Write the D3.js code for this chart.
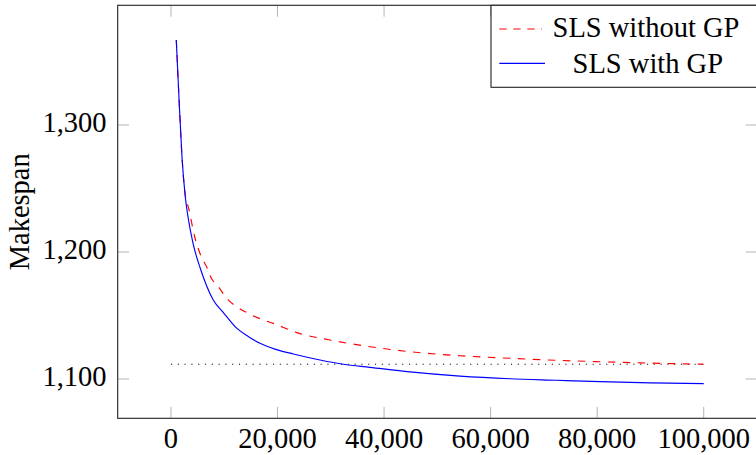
<!DOCTYPE html>
<html><head><meta charset="utf-8">
<script src="https://cdn.jsdelivr.net/npm/d3@7"></script>
<style>
html,body{margin:0;padding:0;background:#fff;}
svg{display:block;}
text{font-family:"Liberation Serif","Times New Roman",serif;fill:#000;}
</style></head>
<body>
<svg id="chart" width="756" height="455"></svg>
<script>
// Data
const seriesNames = ["SLS without GP", "SLS with GP"];
const withoutGP_x = [1000,1500,2065,2684,3320,4450,5690,6815,7320,8880,10700,12500,14830,17000,19200,23600,29850,36100,44870,54250,63640,72400,80530,90000,100000];
const withoutGP_y = [1367,1321.5,1275,1245,1234.4,1212,1196.3,1187.2,1181.5,1172.7,1162.5,1156.5,1151,1147,1143.8,1136.5,1130.7,1126.2,1121.5,1118.3,1116.3,1114.7,1113.6,1112.5,1111.6];
const withGP_x = [995,1502,2065,2684,3191,4130,5500,7940,9800,12330,14500,16700,19500,22960,27970,32350,37360,44870,54250,63640,72400,80530,90000,100000];
const withGP_y = [1367,1321.5,1275,1243.5,1227.8,1206.9,1187.2,1162.2,1152.5,1140,1133.5,1128.1,1123.5,1119.7,1115,1111.6,1109.2,1105.6,1102.3,1100.2,1099,1097.9,1097,1096.3];
const reference_x = [0, 100000];
const reference_y = [1111.6, 1111.6];
const xTicks = [0,20000,40000,60000,80000,100000];
const yTicks = [1100,1200,1300];
const yLabel = "Makespan";

const svg = d3.select("#chart");
const L = 117.7, R = 757, T = 5.3, B = 418.3;
const x = d3.scaleLinear().domain([-10000,110000]).range([L,R]);
const y = d3.scaleLinear().domain([1069.05,1394.25]).range([B,T]);
const fmt = d3.format(",");
const tickLen = 11.4;

// ticks (inward, all four sides)
const tg = svg.append("g").attr("stroke","#b5b5b5").attr("stroke-width",1);
xTicks.forEach(v=>{
  tg.append("line").attr("x1",x(v)).attr("x2",x(v)).attr("y1",B).attr("y2",B-tickLen);
  tg.append("line").attr("x1",x(v)).attr("x2",x(v)).attr("y1",T).attr("y2",T+tickLen);
});
yTicks.forEach(v=>{
  tg.append("line").attr("x1",L).attr("x2",L+tickLen).attr("y1",y(v)).attr("y2",y(v));
  tg.append("line").attr("x1",R).attr("x2",R-tickLen).attr("y1",y(v)).attr("y2",y(v));
});

// tick labels
svg.append("g").selectAll("text").data(xTicks).join("text")
  .attr("x",d=>x(d)).attr("y",448).attr("text-anchor","middle")
  .attr("font-size",28.5).text(d=>fmt(d));
svg.append("g").selectAll("text").data(yTicks).join("text")
  .attr("x",106.5).attr("y",d=>y(d)+6.8).attr("text-anchor","end")
  .attr("font-size",28.5).text(d=>fmt(d));

// y label
svg.append("text").attr("transform","translate(29,211.8) rotate(-90)")
  .attr("text-anchor","middle").attr("font-size",28.5).text(yLabel);

// lines
const mk = (xs,ys)=>xs.map((v,i)=>[v,ys[i]]);
const line = d3.line().x(d=>x(d[0])).y(d=>y(d[1])).curve(d3.curveMonotoneX);
const lineLin = d3.line().x(d=>x(d[0])).y(d=>y(d[1]));

svg.append("path").attr("d",lineLin(mk(reference_x,reference_y)))
  .attr("fill","none").attr("stroke","#000").attr("stroke-width",1.1)
  .attr("stroke-dasharray","1.1,5.7");
svg.append("path").attr("d",line(mk(withoutGP_x,withoutGP_y)))
  .attr("fill","none").attr("stroke","#ff0000").attr("stroke-width",1.15)
  .attr("stroke-dasharray","7.5,7.5");
svg.append("path").attr("d",line(mk(withGP_x,withGP_y)))
  .attr("fill","none").attr("stroke","#0000ff").attr("stroke-width",1.15);

// frame
svg.append("rect").attr("x",L).attr("y",T).attr("width",R-L).attr("height",B-T)
  .attr("fill","none").attr("stroke","#222").attr("stroke-width",1.1);

// legend
const lg = svg.append("g");
lg.append("rect").attr("x",491).attr("y",T).attr("width",R-491).attr("height",87.3-T)
  .attr("fill","#fff").attr("stroke","#222").attr("stroke-width",1.1);
lg.append("line").attr("x1",499.3).attr("x2",542).attr("y1",29).attr("y2",29)
  .attr("stroke","#ff0000").attr("stroke-width",1.15).attr("stroke-dasharray","7.3,6.7");
lg.append("line").attr("x1",499.3).attr("x2",545).attr("y1",63.3).attr("y2",63.3)
  .attr("stroke","#0000ff").attr("stroke-width",1.15);
lg.append("text").attr("x",646).attr("y",36.7).attr("text-anchor","middle")
  .attr("font-size",28.5).text(seriesNames[0]);
lg.append("text").attr("x",647.8).attr("y",72.7).attr("text-anchor","middle")
  .attr("font-size",28.5).text(seriesNames[1]);
</script>
</body></html>
